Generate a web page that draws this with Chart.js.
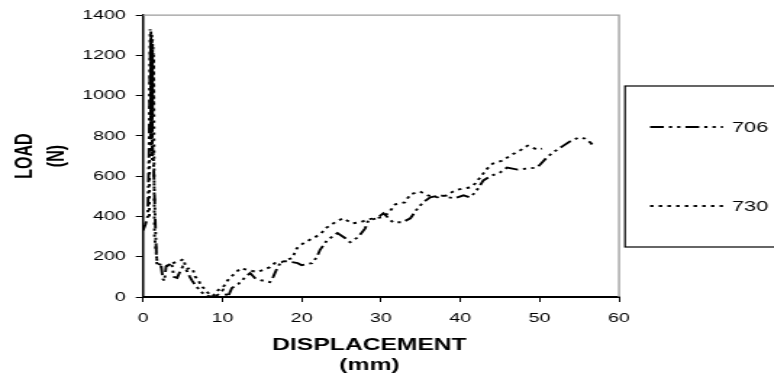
<!DOCTYPE html>
<html>
<head>
<meta charset="utf-8">
<script src="https://cdn.jsdelivr.net/npm/chart.js@4.4.1/dist/chart.umd.min.js"></script>
<style>
  html, body { margin: 0; padding: 0; background: #fff; overflow: hidden; }
  #wrap { position: absolute; left: 0; top: 0; width: 534px; height: 378px;
          transform: scaleX(1.4494); transform-origin: 0 0; }
</style>
</head>
<body>
<div id="wrap"><canvas id="c"></canvas></div>
<script>
// ---- data ----
const SERIES_LABELS = ['706', '730'];
const X_TICKS = [0, 10, 20, 30, 40, 50, 60];
const Y_TICKS = [0, 200, 400, 600, 800, 1000, 1200, 1400];
const X_TITLE = ['DISPLACEMENT', '(mm)'];
const Y_TITLE = ['LOAD', '(N)'];

const disp706 = [0, 0.3, 0.6, 0.75, 0.85, 0.95, 1.05, 1.1, 1.2, 1.3, 1.45, 1.6, 1.75, 2.0, 2.3, 2.5, 2.7, 2.9, 3.3, 3.6, 3.9, 4.3, 4.7, 5.0, 5.3, 5.6, 5.9, 6.2, 6.6, 7.0, 7.5, 8.0, 9.0, 9.6, 10.1, 10.7, 11.2, 12.0, 12.9, 13.5, 14.1, 14.8, 16.0, 16.4, 16.9, 17.3, 17.9, 18.8, 19.5, 20.0, 21.3, 21.9, 22.3, 23.2, 24.5, 25.5, 26.1, 27.1, 28.0, 28.4, 29.5, 30.3, 31.5, 32.7, 33.7, 34.6, 35.3, 36.2, 37.5, 38.5, 39.3, 40.4, 41.2, 41.9, 42.9, 44.0, 45.0, 45.9, 47.2, 48.4, 49.7, 50.3, 50.9, 51.7, 53.0, 53.8, 54.9, 55.7, 56.4, 56.6];
const load706 = [330, 360, 400, 700, 1050, 1280, 900, 1250, 750, 700, 500, 300, 160, 150, 150, 90, 80, 150, 160, 170, 100, 95, 130, 150, 140, 125, 100, 80, 60, 40, 20, 5, 0, 15, 35, 0, 45, 64, 99, 119, 94, 84, 74, 99, 143, 168, 178, 173, 168, 158, 168, 198, 233, 282, 317, 292, 272, 297, 341, 381, 391, 416, 371, 371, 391, 440, 470, 495, 505, 495, 490, 505, 495, 520, 579, 604, 618, 643, 633, 638, 643, 668, 693, 718, 752, 772, 792, 787, 767, 757];

const disp730 = [0.8, 0.9, 0.95, 1.0, 1.03, 1.06, 1.1, 1.13, 1.16, 1.2, 1.23, 1.26, 1.3, 1.35, 1.4, 1.45, 1.8, 2.3, 2.8, 3.2, 3.6, 4.2, 4.7, 5.1, 5.3, 5.6, 5.9, 6.3, 6.6, 7.0, 7.3, 7.8, 8.4, 8.8, 9.5, 10.1, 10.7, 11.6, 12.3, 13.1, 14.4, 15.1, 16.0, 16.6, 17.5, 17.9, 18.8, 19.4, 20.4, 21.7, 22.6, 23.0, 24.2, 25.2, 26.4, 27.4, 28.4, 29.3, 30.1, 30.9, 31.8, 33.0, 33.7, 34.9, 35.9, 37.1, 38.3, 39.3, 40.4, 41.2, 41.9, 42.5, 43.4, 44.1, 45.4, 46.3, 47.5, 48.5, 49.7, 50.3];
const load730 = [400, 1330, 800, 1320, 700, 1310, 850, 1300, 680, 1280, 900, 1250, 950, 1200, 600, 300, 165, 160, 150, 160, 165, 175, 180, 188, 160, 140, 145, 134, 100, 84, 55, 40, 10, 5, 35, 49, 84, 119, 143, 135, 124, 134, 148, 168, 173, 183, 193, 242, 272, 297, 322, 341, 371, 391, 366, 371, 386, 391, 396, 416, 460, 470, 510, 524, 505, 495, 505, 529, 539, 544, 564, 594, 638, 663, 678, 703, 727, 752, 732, 737, 767];

const toPoints = (xs, ys) => xs.map((x, i) => ({ x: x, y: ys[i] }));

Chart.defaults.font.family = "'Liberation Sans', Arial, sans-serif";
Chart.defaults.color = '#000';

// frame (top/right), custom legend box and x-axis title
const extras = {
  id: 'extras',
  beforeDatasetsDraw(chart) {
    const { ctx, chartArea: a } = chart;
    ctx.save();
    ctx.strokeStyle = '#9c9c9c';
    ctx.lineWidth = 1.3;
    ctx.beginPath();
    ctx.moveTo(a.left, a.top);
    ctx.lineTo(a.right, a.top);
    ctx.lineTo(a.right, a.bottom);
    ctx.stroke();
    ctx.restore();
  },
  afterDraw(chart) {
    const { ctx } = chart;
    ctx.save();
    // legend box
    ctx.strokeStyle = '#000';
    ctx.lineWidth = 1.2;
    ctx.setLineDash([]);
    ctx.strokeRect(431.2, 86, 130, 161);
    const ys = [127, 206];
    chart.data.datasets.forEach((ds, i) => {
      ctx.save();
      ctx.strokeStyle = ds.borderColor;
      ctx.lineWidth = ds.borderWidth;
      ctx.setLineDash(ds.borderDash);
      ctx.beginPath();
      ctx.moveTo(448.5, ys[i]);
      ctx.lineTo(498.8, ys[i]);
      ctx.stroke();
      ctx.restore();
      ctx.fillStyle = '#000';
      ctx.font = "15px 'Liberation Sans', Arial, sans-serif";
      ctx.textAlign = 'left';
      ctx.textBaseline = 'middle';
      ctx.fillText(ds.label, 505, ys[i] + 1);
    });
    // x-axis title
    ctx.fillStyle = '#000';
    ctx.font = "bold 17px 'Liberation Sans', Arial, sans-serif";
    ctx.textAlign = 'center';
    ctx.textBaseline = 'middle';
    ctx.fillText(X_TITLE[0], 254.9, 345);
    ctx.fillText(X_TITLE[1], 254.9, 365);
    ctx.restore();
  }
};

new Chart(document.getElementById('c'), {
  type: 'line',
  data: {
    datasets: [
      {
        label: SERIES_LABELS[0],
        data: toPoints(disp706, load706),
        borderColor: '#000',
        borderWidth: 1.9,
        borderDash: [9.5, 3.5, 2.2, 3.5, 2.2, 3.5],
        pointRadius: 0,
        tension: 0,
        fill: false
      },
      {
        label: SERIES_LABELS[1],
        data: toPoints(disp730, load730),
        borderColor: '#000',
        borderWidth: 1.9,
        borderDash: [2.4, 3.6],
        pointRadius: 0,
        tension: 0,
        fill: false
      }
    ]
  },
  options: {
    responsive: true,
    maintainAspectRatio: false,
    animation: false,
    events: [],
    layout: { padding: { left: 0, top: 14, right: 106.93, bottom: 0 } },
    plugins: { legend: { display: false }, tooltip: { enabled: false }, title: { display: false } },
    scales: {
      x: {
        type: 'linear',
        min: 0, max: 60,
        afterBuildTicks: (s) => { s.ticks = X_TICKS.map(v => ({ value: v })); },
        afterFit: (s) => { s.height = 81; },
        ticks: { padding: 8, font: { size: 13.5 }, color: '#000', maxRotation: 0, callback: (v) => String(v) },
        grid: { drawOnChartArea: false, drawTicks: true, tickLength: 5, color: '#000', lineWidth: 1 },
        border: { display: true, color: '#000', width: 2 },
        title: { display: false }
      },
      y: {
        type: 'linear',
        min: 0, max: 1400,
        afterBuildTicks: (s) => { s.ticks = Y_TICKS.map(v => ({ value: v })); },
        afterFit: (s) => { s.width = 98.66; },
        ticks: { padding: 7, font: { size: 13.5 }, color: '#000', callback: (v) => String(v) },
        grid: { drawOnChartArea: false, drawTicks: true, tickLength: 5, color: '#000', lineWidth: 1 },
        border: { display: true, color: '#000', width: 1.5 },
        title: {
          display: true,
          text: Y_TITLE,
          color: '#000',
          font: { size: 16, weight: 'bold', lineHeight: 1.375 },
          padding: { top: 7, bottom: 4 }
        }
      }
    }
  },
  plugins: [extras]
});
</script>
</body>
</html>
